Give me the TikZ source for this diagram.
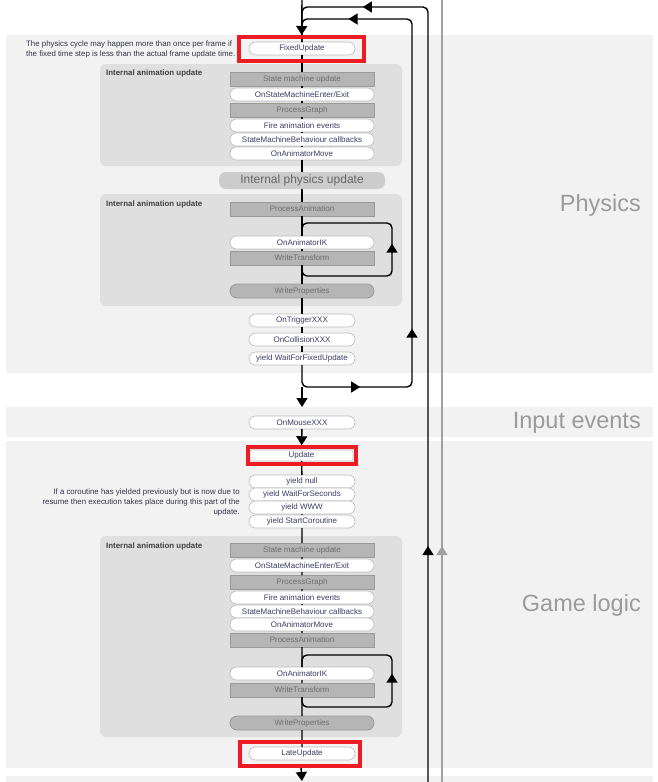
\documentclass[tikz,border=0pt]{standalone}
\usepackage{fontspec}
\setmainfont{Liberation Sans}
\usetikzlibrary{positioning,arrows.meta,decorations.markings}
\definecolor{bandgray}{HTML}{F2F2F2}
\definecolor{panelgray}{HTML}{DFDFDF}
\definecolor{boxgray}{HTML}{B5B5B5}
\definecolor{boxedge}{HTML}{9A9A9A}
\definecolor{pilledge}{HTML}{BBBBBB}
\definecolor{hotred}{HTML}{ED1C24}
\definecolor{calltext}{HTML}{3C3C64}
\definecolor{stagetext}{HTML}{6E6E6E}
\definecolor{phasetext}{HTML}{9B9B9B}
\definecolor{notetext}{HTML}{33334A}
\definecolor{sideline}{HTML}{A0A0A0}
\tikzset{
  call/.style={draw=pilledge, line width=0.6pt, fill=white, rounded corners=6.5pt, minimum width=144pt, minimum height=13pt, inner sep=0pt, outer sep=0pt, text=calltext, font=\fontsize{8pt}{9pt}\selectfont},
  shortcall/.style={call, minimum width=106pt},
  stage/.style={draw=boxedge, line width=0.8pt, fill=boxgray, minimum width=144pt, minimum height=14pt, inner sep=0pt, outer sep=0pt, text=stagetext, font=\fontsize{8pt}{9pt}\selectfont},
  bigstage/.style={fill=black!20, rounded corners=7pt, minimum width=166pt, minimum height=17pt, inner sep=0pt, outer sep=0pt, text=black!60, font=\fontsize{12pt}{14pt}\selectfont},
  redframe/.style={draw=hotred, line width=4pt, inner sep=0pt},
  phase/.style={anchor=base east, inner sep=0pt, text=phasetext, font=\fontsize{23.5pt}{28pt}\selectfont},
  panellabel/.style={anchor=base west, inner sep=0pt, text=black!75, font=\bfseries\fontsize{7.9pt}{9pt}\selectfont},
  note/.style={inner sep=0pt, text=notetext, font=\fontsize{7.85pt}{9.6pt}\selectfont},
  flow/.style={line width=1.4pt},
}
\begin{document}
\begin{tikzpicture}[x=1pt, y=-1pt, >={Triangle[length=9pt,width=11pt]}]
\useasboundingbox (0,0) rectangle (657,782);
% bands and panels
\fill[bandgray] (6,35) rectangle (653,373);
\fill[bandgray] (6,407) rectangle (653,437);
\fill[bandgray] (6,441) rectangle (653,768);
\fill[bandgray] (6,776) rectangle (653,782);
\fill[panelgray, rounded corners=6pt] (100,64) rectangle (402,166);
\fill[panelgray, rounded corners=6pt] (100,194) rectangle (402,306);
\fill[panelgray, rounded corners=6pt] (100,536) rectangle (402,737);
\node[phase] (physics) at (641,211) {Physics};
\node[phase] (input) at (641,428) {Input events};
\node[phase] (logic) at (641,611) {Game logic};
\node[note, anchor=north west, align=left] (physnote) at (26,41) {The physics cycle may happen more than once per frame if\\the fixed time step is less than the actual frame update time.};
\node[note, anchor=north east, align=right] (cornote) at (240,489) {If a coroutine has yielded previously but is now due to\\resume then execution takes place during this part of the\\update.};
\node[panellabel] (anim1) at (106,75) {Internal animation update};
\node[panellabel] (anim2) at (106,206) {Internal animation update};
\node[panellabel] (anim3) at (106,548) {Internal animation update};

% physics
\node[shortcall] (fixed) at (302,48.5) {FixedUpdate};
\node[stage] (sm1) at (302,79) {State machine update};
\node[call, below=2pt of sm1] (ose1) {OnStateMachineEnter/Exit};
\node[stage, below=2pt of ose1] (pg1) {ProcessGraph};
\node[call, below=2pt of pg1] (fae1) {Fire animation events};
\node[call, below=1pt of fae1] (smb1) {StateMachineBehaviour callbacks};
\node[call, below=1pt of smb1] (oam1) {OnAnimatorMove};
\node[bigstage] (ipu) at (302,180.5) {Internal physics update};
\node[stage] (pa2) at (302,209) {ProcessAnimation};
\node[call, below=20pt of pa2] (oik2) {OnAnimatorIK};
\node[stage, below=2pt of oik2] (wt2) {WriteTransform};
\node[stage, rounded corners=7pt, below=19pt of wt2] (wp2) {WriteProperties};
\node[shortcall] (otr) at (302,320.5) {OnTriggerXXX};
\node[shortcall, below=6pt of otr] (ocl) {OnCollisionXXX};
\node[shortcall, below=6pt of ocl] (wffu) {yield WaitForFixedUpdate};

% input and game logic
\node[shortcall] (omx) at (302,422.5) {OnMouseXXX};
\node[call, minimum width=103pt, minimum height=11pt, rounded corners=2pt] (upd) at (301.5,455.5) {Update};
\node[shortcall] (yn) at (302,481.5) {yield null};
\node[shortcall, below=0pt of yn] (ywfs) {yield WaitForSeconds};
\node[shortcall, below=0pt of ywfs] (ywww) {yield WWW};
\node[shortcall, below=1pt of ywww] (ysc) {yield StartCoroutine};
\node[stage] (sm3) at (302,550) {State machine update};
\node[call, below=2pt of sm3] (ose3) {OnStateMachineEnter/Exit};
\node[stage, below=3pt of ose3] (pg3) {ProcessGraph};
\node[call, below=2pt of pg3] (fae3) {Fire animation events};
\node[call, below=1pt of fae3] (smb3) {StateMachineBehaviour callbacks};
\node[call, below=0pt of smb3] (oam3) {OnAnimatorMove};
\node[stage, below=2pt of oam3] (pa3) {ProcessAnimation};
\node[call, below=20pt of pa3] (oik3) {OnAnimatorIK};
\node[stage, below=3pt of oik3] (wt3) {WriteTransform};
\node[stage, rounded corners=7pt, below=19pt of wt3] (wp3) {WriteProperties};
\node[shortcall] (lu) at (302,753.5) {LateUpdate};

\coordinate (top) at (302,0);
\coordinate (otl) at (302,7);
\coordinate (obot) at (428,782);
\coordinate (ibr) at (412,387);
\coordinate (itr) at (412,19);
\coordinate (ib) at (302,387);
\coordinate (omxin) at (302,407);
\coordinate (l2b) at (392,276);
\coordinate (l2t) at (392,223);
\coordinate (l3b) at (392,707);
\coordinate (l3t) at (392,655);
\coordinate (gtop) at (442,0);
\coordinate (gbot) at (442,782);
\coordinate (bot) at (302,781);

% loops
\draw[sideline, line width=1.2pt, postaction={decorate}, decoration={markings, mark=at position 236pt with {\arrow{>}}}] (gbot) -- (gtop);
\draw[flow, rounded corners=5pt, postaction={decorate}, decoration={markings, mark=at position 236pt with {\arrow{>}}, mark=at position 838pt with {\arrow{>}}}] (obot) |- (otl) -- (fixed);
\draw[flow, rounded corners=5pt, postaction={decorate}, decoration={markings, mark=at position 78pt with {\arrow{>}}, mark=at position 186pt with {\arrow{>}}, mark=at position 557pt with {\arrow{>}}}] (wffu) |- (ibr) -- (itr) -| (fixed);
\draw[flow, rounded corners=5pt, postaction={decorate}, decoration={markings, mark=at position 129pt with {\arrow{>}}}] (wt2) |- (l2b) -- (l2t) -| (oik2);
\draw[flow, rounded corners=5pt, postaction={decorate}, decoration={markings, mark=at position 129pt with {\arrow{>}}}] (wt3) |- (l3b) -- (l3t) -| (oik3);

% main line
\draw[flow] (fixed) -- (sm1) -- (ose1) -- (pg1) -- (fae1) -- (smb1) -- (oam1) -- (ipu) -- (pa2) -- (oik2) -- (wt2) -- (wp2) -- (otr) -- (ocl) -- (wffu);
\draw[flow] (upd) -- (yn) -- (ywfs) -- (ywww) -- (ysc) -- (sm3) -- (ose3) -- (pg3) -- (fae3) -- (smb3) -- (oam3) -- (pa3) -- (oik3) -- (wt3) -- (wp3) -- (lu);

% red frames
\node[redframe, minimum width=125pt, minimum height=24pt] (fixfr) at (301.5,49) {};
\node[redframe, minimum width=108pt, minimum height=16.5pt] (updfr) at (301.5,455.5) {};
\node[redframe, minimum width=120pt, minimum height=24pt] (lufr) at (300,754) {};
\draw[flow,->] (top) -- (fixfr);
\draw[flow,->] (ib) -- (omxin);
\draw[flow,->] (omx) -- (updfr);
\draw[flow,->] (lufr) -- (bot);
\end{tikzpicture}
\end{document}
